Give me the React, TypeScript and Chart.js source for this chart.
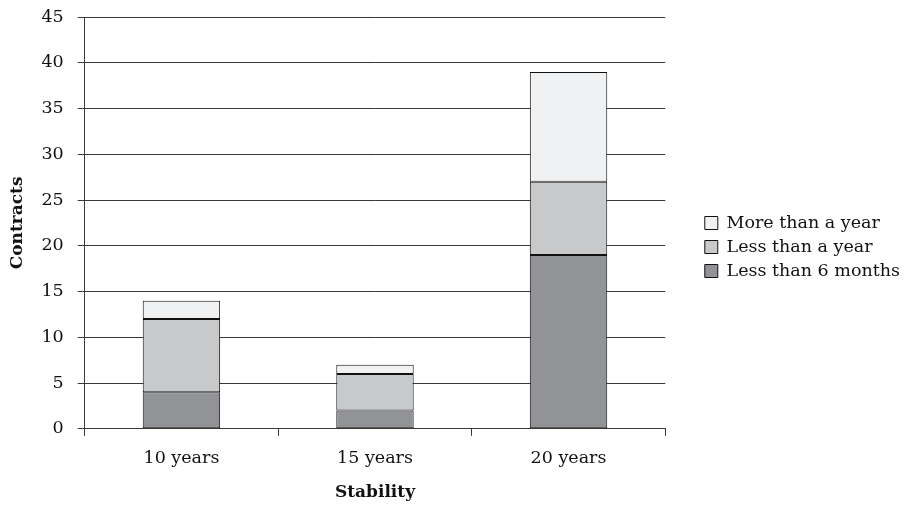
import React, { useEffect, useRef } from "react";
import { Chart, registerables } from "chart.js";

Chart.register(...registerables);

const categories = ["10 years", "15 years", "20 years"];
const lessThan6Months = [4, 2, 19];
const lessThanAYear = [8, 4, 8];
const moreThanAYear = [2, 1, 12];

const FONT = "'DejaVu Serif', serif";
const LINE = "#3a3a3a";
const TEXT = "#111";
const LEGEND_GAP = 33;
const LEGEND_SHIFT_Y = -8;
const PLOT_TOP = 17;

const layoutTweaks = {
  id: "layoutTweaks",
  beforeInit(chart: any) {
    const lg = chart.legend;
    if (!lg) return;
    const orig = lg.fit;
    lg.fit = function () {
      orig.call(this);
      this.width += LEGEND_GAP;
    };
  },
  afterLayout(chart: any) {
    const lg = chart.legend;
    if (lg) {
      lg.left += LEGEND_GAP;
      lg.top += LEGEND_SHIFT_Y;
      lg.bottom += LEGEND_SHIFT_Y;
      if (lg.legendHitBoxes) {
        lg.legendHitBoxes.forEach((b: any) => {
          b.left += LEGEND_GAP;
          b.top += LEGEND_SHIFT_Y;
        });
      }
    }
    const y = chart.scales.y;
    if (y && y.top > PLOT_TOP) {
      y.top = PLOT_TOP;
      y.height = y.bottom - PLOT_TOP;
      y.configure();
      chart.chartArea.top = PLOT_TOP;
      chart.chartArea.height = chart.chartArea.bottom - PLOT_TOP;
    }
  },
};

export default function App() {
  const ref = useRef<HTMLCanvasElement | null>(null);
  useEffect(() => {
    if (!ref.current) return;
    const bar = { borderColor: "#111", borderWidth: 1, borderSkipped: false as const };
    const chart = new Chart(ref.current, {
      type: "bar",
      data: {
        labels: categories,
        datasets: [
          { label: "Less than 6 months", data: lessThan6Months, backgroundColor: "#929396", ...bar },
          { label: "Less than a year", data: lessThanAYear, backgroundColor: "#c8c9cb", ...bar },
          { label: "More than a year", data: moreThanAYear, backgroundColor: "#f0f1f3", ...bar },
        ],
      },
      plugins: [layoutTweaks],
      options: {
        animation: false,
        responsive: false,
        maintainAspectRatio: false,
        layout: { autoPadding: false, padding: { top: 7, left: 7, right: 0, bottom: 3 } },
        datasets: { bar: { categoryPercentage: 1, barPercentage: 0.4 } },
        plugins: {
          tooltip: { enabled: false },
          legend: {
            position: "right",
            reverse: true,
            labels: {
              font: { family: FONT, size: 17.5 },
              color: TEXT,
              boxWidth: 13,
              boxHeight: 13,
              padding: 6.5,
              useBorderRadius: false,
            },
          },
        },
        scales: {
          x: {
            stacked: true,
            offset: true,
            grid: { offset: true, drawOnChartArea: false, color: LINE, tickLength: 7, tickColor: LINE },
            border: { color: LINE },
            ticks: { font: { family: FONT, size: 17.5, lineHeight: 0.9 }, color: TEXT, padding: 15 },
            title: { display: true, text: "Stability", font: { family: FONT, size: 17, weight: "bold" }, color: TEXT, padding: { top: 1, bottom: 0 } },
          },
          y: {
            stacked: true,
            min: 0,
            max: 45,
            ticks: { stepSize: 5, font: { family: FONT, size: 17.5, lineHeight: 1.0 }, color: TEXT, padding: 14 },
            grid: { color: LINE, tickLength: 7, tickColor: LINE },
            border: { color: LINE },
            title: { display: true, text: "Contracts", font: { family: FONT, size: 17, weight: "bold" }, color: TEXT, padding: 0 },
          },
        },
      },
    });
    return () => chart.destroy();
  }, []);
  return (
    <div style={{ position: "fixed", left: 0, top: 0, width: 910, height: 506, background: "#fff" }}>
      <canvas ref={ref} width={910} height={506} />
    </div>
  );
}
